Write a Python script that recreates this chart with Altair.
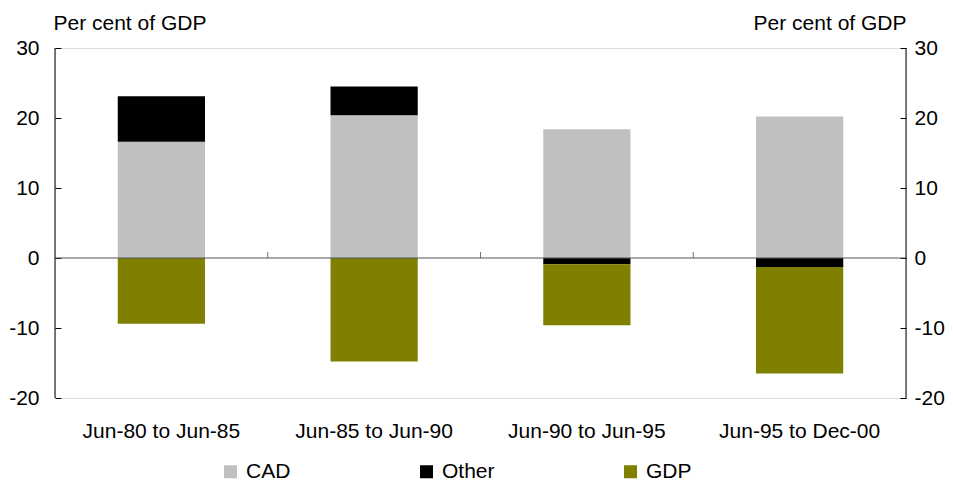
import altair as alt
import pandas as pd

categories = ["Jun-80 to Jun-85", "Jun-85 to Jun-90", "Jun-90 to Jun-95", "Jun-95 to Dec-00"]
series = ["CAD", "Other", "GDP"]
cad = [16.6, 20.4, 18.4, 20.2]
other = [6.5, 4.1, -0.9, -1.3]
gdp = [-9.4, -14.8, -8.7, -15.2]
y_ticks = [-20, -10, 0, 10, 20, 30]
colors = ["#c0c0c0", "#000000", "#808000"]

rows = []
for i, c in enumerate(categories):
    for j, (s, vals) in enumerate(zip(series, [cad, other, gdp])):
        rows.append({"cat": c, "series": s, "value": vals[i], "ord": j})
df = pd.DataFrame(rows)

FONT = "Liberation Sans"
FS = 21
W, H = 851, 350

yscale = alt.Scale(domain=[-20, 30], nice=False, zero=False)
xscale = alt.Scale(paddingInner=0, paddingOuter=0)
label_expr = "'' + datum.value"

left_axis = alt.Axis(
    values=y_ticks, domain=False, grid=False, ticks=True, tickSize=6, offset=-6,
    tickColor="#000", labelFontSize=FS, labelColor="#000", labelPadding=16,
    labelExpr=label_expr,
    title="Per cent of GDP", titleAngle=0, titleAlign="left", titleBaseline="alphabetic",
    titleX=-8, titleY=-19, titleFontSize=FS, titleFontWeight="normal", titleColor="#000",
)
right_axis = alt.Axis(
    orient="right", values=y_ticks, domain=False, grid=False, ticks=True, tickSize=6, offset=-6,
    tickColor="#000", labelFontSize=FS, labelColor="#000", labelPadding=8,
    labelExpr=label_expr,
    title="Per cent of GDP", titleAngle=0, titleAlign="right", titleBaseline="alphabetic",
    titleX=6, titleY=-19, titleFontSize=FS, titleFontWeight="normal", titleColor="#000",
)

bars = alt.Chart(df).mark_bar(width=alt.RelativeBandSize(0.41)).encode(
    x=alt.X("cat:N", sort=categories, scale=xscale,
            axis=alt.Axis(title=None, labelAngle=0, domain=False, ticks=False,
                          labelPadding=22, labelFontSize=FS, labelColor="#000")),
    y=alt.Y("value:Q", stack="zero", scale=yscale, axis=left_axis),
    color=alt.Color("series:N", scale=alt.Scale(domain=series, range=colors),
                    legend=alt.Legend(title=None, orient="none", legendX=165, legendY=413,
                                      direction="horizontal", symbolType="square",
                                      symbolSize=169, symbolStrokeWidth=0,
                                      labelFontSize=FS, labelColor="#000", labelOffset=5,
                                      columnPadding=125, padding=0)),
    order=alt.Order("ord:Q"),
)

zero_df = pd.DataFrame({"zero": [0]})
zero_line = alt.Chart(zero_df).mark_rule(color="#555", strokeWidth=1).encode(
    y=alt.Y("zero:Q", scale=yscale, axis=right_axis)
)

tick_df = pd.DataFrame({"cat": categories[1:]})
cat_ticks = alt.Chart(tick_df).mark_tick(orient="vertical", size=6, thickness=1,
                                         color="#333", yOffset=-3).encode(
    x=alt.X("cat:N", sort=categories, scale=xscale, bandPosition=0),
    y=alt.YDatum(0, scale=yscale, axis=None),
)

left_edge = alt.Chart(zero_df).mark_rule(color="#000", strokeWidth=1).encode(
    x=alt.value(0), y=alt.value(0), y2=alt.value(H))
right_edge = alt.Chart(zero_df).mark_rule(color="#000", strokeWidth=1).encode(
    x=alt.value(W), y=alt.value(0), y2=alt.value(H))

chart = alt.layer(bars, zero_line, cat_ticks, left_edge, right_edge).resolve_axis(
    y="independent"
).properties(
    width=W, height=H,
    padding={"left": 47, "top": 40, "right": 39, "bottom": 83},
    autosize=alt.AutoSizeParams(type="none"),
).configure_view(stroke=None).configure(font=FONT)

chart.save("out.html", embed_options={"renderer": "svg", "actions": False})
